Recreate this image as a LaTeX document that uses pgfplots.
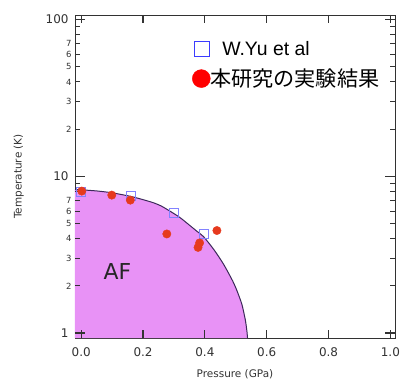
\documentclass[border=0pt]{standalone}
\usepackage{fontspec}
\setmainfont{DejaVu Sans}
\newfontfamily\arial{Liberation Sans}
\newfontfamily\cjk{Noto Sans CJK JP}
\usepackage{pgfplots}
\pgfplotsset{compat=1.18}
\definecolor{afpink}{RGB}{232,146,246}
\definecolor{afline}{RGB}{60,40,90}
\definecolor{dotred}{RGB}{230,58,30}
\definecolor{sqblue}{RGB}{130,130,255}
\definecolor{legblue}{RGB}{60,60,255}
\definecolor{axgray}{RGB}{50,50,50}
\begin{document}
\begin{tikzpicture}
\begin{axis}[
 scale only axis, width=320bp, height=323bp,
 xmin=-0.02, xmax=1.015, ymode=log, ymin=0.93, ymax=107,
 clip=false,
 axis line style={draw=axgray, line width=0.8pt},
 xtick={0,0.2,0.4,0.6,0.8,1.0}, xticklabels={0.0,0.2,0.4,0.6,0.8,1.0},
 ytick={1,10,100}, yticklabels={1,10,100},
 minor ytick={2,3,4,5,6,7,8,9,20,30,40,50,60,70,80,90},
 extra y ticks={2,3,4,5,6,7,20,30,40,50,60,70},
 extra y tick labels={2,3,4,5,6,7,2,3,4,5,6,7},
 extra y tick style={yticklabel style={font=\fontsize{8.5}{9}\selectfont, xshift=3bp}},
 xtick style={draw=none},
 ytick style={draw=none},
 xticklabel style={font=\fontsize{12}{14}\selectfont, text=axgray, yshift=-6bp},
 yticklabel style={font=\fontsize{12}{14}\selectfont, text=axgray, xshift=-3bp},
 xlabel={Pressure (GPa)}, ylabel={Temperature (K)},
 xlabel style={font=\fontsize{10.5}{12}\selectfont, text=axgray, yshift=-6bp},
 ylabel style={font=\fontsize{10.5}{12}\selectfont, text=axgray, yshift=15bp},
 legend style={at={(rel axis cs:0.366,0.925)}, anchor=north west, draw=none, fill=none, inner sep=0pt, row sep=8bp},
 legend cell align=left,
 legend image code/.code={\draw[#1] plot coordinates {(0bp,0bp)};},
]
\addplot[fill=afpink, draw=none, forget plot] coordinates {
(-0.02,0.93) (-0.02,8.22) (0,8.2) (0.05,8.07) (0.1,7.85) (0.16,7.45) (0.2,7.1) (0.234,6.78) (0.26,6.45) (0.29,5.95) (0.32,5.45) (0.353,4.83) (0.375,4.45) (0.396,4.12) (0.43,3.39) (0.461,2.74) (0.49,2.15) (0.504,1.86) (0.52,1.52) (0.531,1.21) (0.536,1.03) (0.538,0.93)};
\addplot[afline, line width=1pt, smooth, tension=0.4, forget plot] coordinates {
(-0.02,8.22) (0,8.2) (0.05,8.07) (0.1,7.85) (0.16,7.45) (0.2,7.1) (0.234,6.78) (0.26,6.45) (0.29,5.95) (0.32,5.45) (0.353,4.83) (0.375,4.45) (0.396,4.12) (0.43,3.39) (0.461,2.74) (0.49,2.15) (0.504,1.86) (0.52,1.52) (0.531,1.21) (0.536,1.03) (0.538,0.93)};
\addplot[only marks, mark=square, mark size=4.5bp, draw=sqblue, line width=0.6pt, forget plot] coordinates {(0,8.0) (0.162,7.48) (0.299,5.85) (0.396,4.29)};
\addplot[only marks, mark=*, mark size=4.2bp, color=dotred, forget plot] coordinates {(0.002,8.05) (0.099,7.59) (0.159,7.05) (0.277,4.29) (0.383,3.76) (0.378,3.52) (0.439,4.51)};
\addlegendimage{only marks, mark=square, mark size=7.5bp, draw=legblue, line width=0.6pt}
\addlegendentry{\hspace{10bp}\arial\fontsize{19.5}{20}\selectfont W.Yu et al}
\addlegendimage{only marks, mark=*, mark size=9bp, color=red}
\addlegendentry{\hspace{-2bp}\cjk\fontsize{21.2}{22}\selectfont 本研究の実験結果}
\node[font=\fontsize{22}{24}\selectfont, text=black!85] at (axis cs:0.117,2.46) {AF};
\pgfplotsinvokeforeach{0,0.2,0.4,0.6,0.8,1.0}{
  \draw[black!80, line width=1.2pt] (axis cs:#1,0.93) -- (axis cs:#1,1.046);
  \draw[black!80, line width=1.2pt] (axis cs:#1,107) -- (axis cs:#1,95.1);
}
\pgfplotsinvokeforeach{1,10,100}{
  \draw[black!80, line width=1.2pt] (axis cs:-0.02,#1) -- (axis cs:0.0124,#1);
  \draw[black!80, line width=1.2pt] (axis cs:1.015,#1) -- (axis cs:0.9826,#1);
}
\pgfplotsinvokeforeach{2,3,4,5,6,7,8,9,20,30,40,50,60,70,80,90}{
  \draw[black!80, line width=1pt] (axis cs:-0.02,#1) -- (axis cs:-0.0038,#1);
  \draw[black!80, line width=1pt] (axis cs:1.015,#1) -- (axis cs:0.9988,#1);
}
\coordinate (sw) at (rel axis cs:0,0);
\coordinate (ne) at (rel axis cs:1,1);
\end{axis}
\pgfresetboundingbox
\path[use as bounding box] ([shift={(-75bp,-45bp)}]sw) rectangle ([shift={(5bp,15bp)}]ne);
\end{tikzpicture}
\end{document}
